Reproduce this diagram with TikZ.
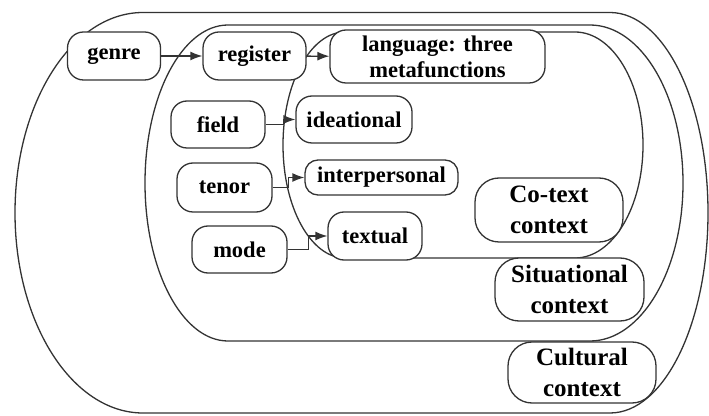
\documentclass[tikz,border=0pt]{standalone}
\usepackage{fontspec}
\setmainfont{Liberation Serif}
\usetikzlibrary{arrows.meta,positioning}

\begin{document}
\begin{tikzpicture}[
  x=1pt,y=1pt,
  wall/.style={draw=black!80,line width=1.3pt},
  box/.style={draw=black!80,fill=white,line width=1.3pt,rounded corners=16pt,
    inner sep=0pt,align=center,font=\fontsize{22.5}{26}\selectfont\bfseries},
  ctx/.style={box,rounded corners=24pt,font=\fontsize{25}{31}\selectfont\bfseries},
  arr/.style={-{Latex[length=12pt,width=9pt]},draw=black!80,line width=1.3pt}
]
\useasboundingbox (0,0) rectangle (709,415);

% nested contexts: culture, situation, co-text
\draw[wall] (143,402.5) -- (610,402.5)
  arc[start angle=90,end angle=-90,x radius=98,y radius=200.25]
  -- (143,2) arc[start angle=270,end angle=90,x radius=128,y radius=200.25] -- cycle;
\draw[wall] (228,390) -- (590,390)
  arc[start angle=90,end angle=-90,x radius=93,y radius=158]
  -- (228,74) arc[start angle=270,end angle=90,x radius=83,y radius=158] -- cycle;
\draw[wall] (345,383) -- (575,383)
  arc[start angle=90,end angle=-90,x radius=68,y radius=113]
  -- (345,157) arc[start angle=270,end angle=90,x radius=62,y radius=113] -- cycle;

\node[box,minimum width=93pt,minimum height=48pt] (genre) at (114,359) {genre};
\node[box,minimum width=103pt,minimum height=48pt] (register) at (254.5,359) {register};
\node[box,minimum width=215pt,minimum height=53pt] (lang) at (437.5,358.5) {language: three\\metafunctions};
\node[box,minimum width=94pt,minimum height=47pt] (field) at (218,290.5) {field};
\node[box,minimum width=116pt,minimum height=47pt] (ideat) at (354,295.5) {ideational};
\node[box,minimum width=95pt,minimum height=49pt] (tenor) at (224.5,227.5) {tenor};
\node[box,rounded corners=13pt,minimum width=153pt,minimum height=35pt] (interp) at (381.5,237.5) {interpersonal};
\node[box,minimum width=95pt,minimum height=47pt] (mode) at (239.5,165.5) {mode};
\node[box,minimum width=94pt,minimum height=48pt] (textual) at (375,179) {textual};

\node[ctx,minimum width=148pt,minimum height=64pt] (cotext) at (549,205) {Co-text\\context};
\node[ctx,minimum width=149pt,minimum height=63pt] (situ) at (569.5,125.5) {Situational\\context};
\node[ctx,minimum width=148pt,minimum height=61pt] (cult) at (582,42.5) {Cultural\\context};

\draw[arr] (genre) -- (register);
\draw[arr] (register) -- (lang);
\draw[arr] (field.east) -- ++(18,0) |- (ideat.west);
\draw[arr] (tenor.east) -- ++(16,0) |- (interp.west);
\draw[arr] (mode.east) -- ++(21,0) |- (textual.west);
\end{tikzpicture}
\end{document}
